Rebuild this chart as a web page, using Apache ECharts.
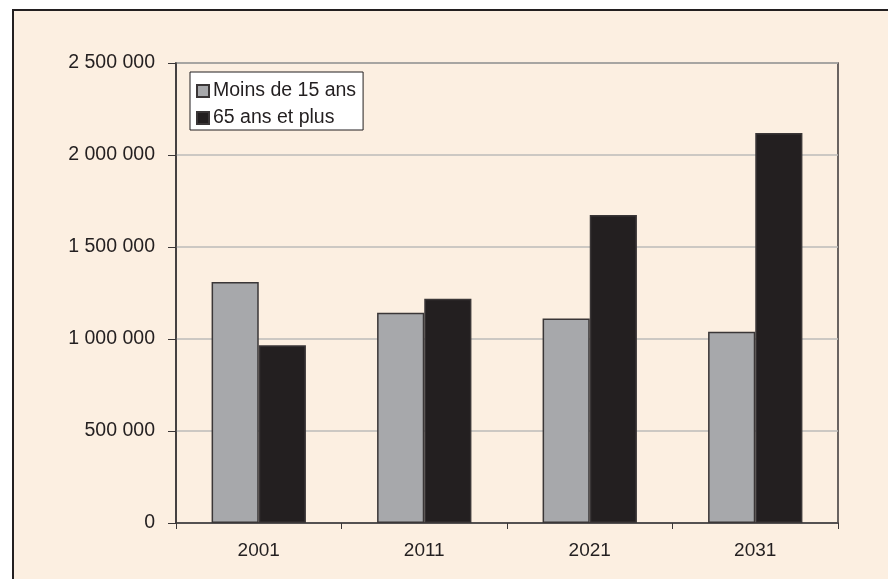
<!DOCTYPE html>
<html><head><meta charset="utf-8">
<script src="https://cdn.jsdelivr.net/npm/echarts@6/dist/echarts.min.js"></script>
<style>html,body{margin:0;padding:0;background:#fff;}#c{width:888px;height:579px;}</style>
</head><body><div id="c"></div>
<script>
var categories = ['2001', '2011', '2021', '2031'];
var seriesNames = ['Moins de 15 ans', '65 ans et plus'];
var moins15 = [1310000, 1143000, 1112000, 1040000];
var plus65 = [966000, 1219000, 1674000, 2120000];
var yTicks = [0, 500000, 1000000, 1500000, 2000000, 2500000];

function fmt(v){ return String(v).replace(/\B(?=(\d{3})+(?!\d))/g, ' '); }
var font = '"Liberation Sans", Arial, sans-serif';
var txt = '#231F20';
var chart = echarts.init(document.getElementById('c'), null, {renderer:'canvas'});
chart.setOption({
  backgroundColor: 'transparent',
  animation: false,
  graphic: [{
    type: 'rect', z: -100, silent: true,
    shape: {x: 13, y: 10, width: 900, height: 600},
    style: {fill: '#FCEFE1', stroke: '#231F20', lineWidth: 2}
  }],
  grid: {left: 176, top: 63, right: 50, bottom: 56, show: true, borderColor: '#3A3637', borderWidth: 1.5, backgroundColor: 'transparent'},
  legend: {
    orient: 'vertical', left: 190, top: 72,
    backgroundColor: '#fff', borderColor: '#231F20', borderWidth: 1,
    padding: [9, 7, 2, 6], itemGap: 7, itemWidth: 12, itemHeight: 12, icon: 'rect',
    textStyle: {fontFamily: font, fontSize: 19.5, color: txt, padding: [0,0,0,-1]},
    data: seriesNames
  },
  xAxis: {
    type: 'category', data: categories,
    axisLine: {lineStyle: {color: '#3A3637', width: 1.5}},
    axisTick: {show: true, length: 6, lineStyle: {color: '#3A3637'}},
    axisLabel: {fontFamily: font, fontSize: 19, color: txt, margin: 18}
  },
  yAxis: {
    type: 'value', min: 0, max: 2500000, interval: 500000,
    axisLine: {show: true, lineStyle: {color: '#3A3637', width: 1.5}},
    axisTick: {show: true, length: 8, lineStyle: {color: '#3A3637'}},
    splitLine: {lineStyle: {color: '#BDBBB8', width: 1.5}},
    axisLabel: {fontFamily: font, fontSize: 19.5, color: txt, margin: 21, formatter: function(v){ return yTicks.indexOf(v) >= 0 ? fmt(v) : ''; }}
  },
  series: [
    {name: seriesNames[0], type: 'bar', data: moins15, barGap: '0%', barCategoryGap: '43%',
     itemStyle: {color: '#A7A8AB', borderColor: '#3A3637', borderWidth: 1.5}},
    {name: seriesNames[1], type: 'bar', data: plus65,
     itemStyle: {color: '#231F20', borderColor: '#3A3637', borderWidth: 1.5}}
  ]
});
</script></body></html>
